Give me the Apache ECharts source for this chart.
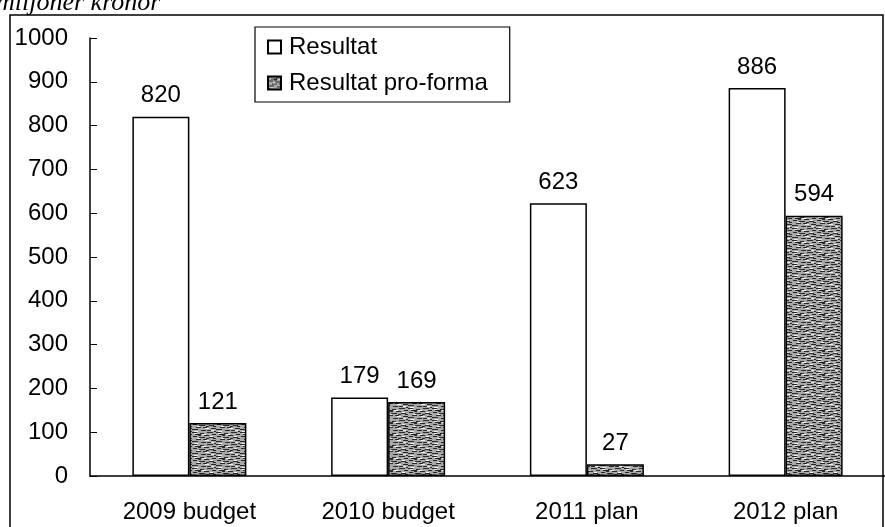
<!DOCTYPE html>
<html>
<head>
<meta charset="utf-8">
<script src="https://cdn.jsdelivr.net/npm/echarts@6/dist/echarts.min.js"></script>
<style>
  html, body { margin: 0; padding: 0; background: #fff; }
  #chart { width: 885px; height: 527px; }
</style>
</head>
<body>
<div id="chart"></div>
<script>
var categories = ['2009 budget', '2010 budget', '2011 plan', '2012 plan'];
var resultat = [820, 179, 623, 886];
var proforma = [121, 169, 27, 594];
var seriesNames = ['Resultat', 'Resultat pro-forma'];

// grainy grey fill like the scanned hatch
function makePattern() {
  var c = document.createElement('canvas');
  c.width = 24; c.height = 12;
  var ctx = c.getContext('2d');
  ctx.fillStyle = '#a8a8a8';
  ctx.fillRect(0, 0, 24, 12);
  ctx.fillStyle = '#2a2a2a';
  var marks = [[0,0,5],[8,1,4],[15,0,6],[3,2,6],[12,3,5],[20,2,4],
               [1,4,4],[7,5,6],[17,5,5],[4,7,5],[11,7,4],[19,8,5],
               [0,9,6],[9,10,5],[15,10,6],[22,11,2],[6,3,3],[14,6,3],[21,6,3]];
  marks.forEach(function (m) { ctx.fillRect(m[0], m[1], m[2], 1); });
  ctx.fillStyle = '#f0f0f0';
  var light = [[2,1,3],[10,2,4],[18,4,3],[5,6,3],[13,8,4],[2,11,4],[19,10,3]];
  light.forEach(function (m) { ctx.fillRect(m[0], m[1], m[2], 1); });
  return c;
}
var pattern = { image: makePattern(), repeat: 'repeat' };

var chart = echarts.init(document.getElementById('chart'));

var fontFamily = 'Liberation Sans, Arial, sans-serif';

var labelStyle = {
  show: true,
  position: 'top',
  distance: 9,
  color: '#000',
  fontSize: 24,
  fontFamily: fontFamily
};

var option = {
  animation: false,
  backgroundColor: '#fff',
  textStyle: { fontFamily: fontFamily, color: '#000' },
  grid: { left: 90, right: -8, top: 38, bottom: 51, containLabel: false },
  legend: {
    orient: 'vertical',
    left: 255,
    top: 27,
    padding: [8, 22, 7, 12],
    itemGap: 12,
    itemWidth: 13,
    itemHeight: 13,
    icon: 'rect',
    borderColor: '#000',
    borderWidth: 1.2,
    textStyle: { fontSize: 24, color: '#000', fontFamily: fontFamily, padding: [0, 0, 0, 3] },
    data: seriesNames
  },
  xAxis: {
    type: 'category',
    data: categories,
    axisLine: { lineStyle: { color: '#000', width: 1.5 } },
    axisTick: { inside: true, length: 8, lineStyle: { color: '#000', width: 1.5 } },
    axisLabel: { color: '#000', fontSize: 24, margin: 24, fontFamily: fontFamily }
  },
  yAxis: {
    type: 'value',
    min: 0,
    max: 1000,
    interval: 100,
    splitLine: { show: false },
    axisLine: { show: true, lineStyle: { color: '#000', width: 1.5 } },
    axisTick: { show: true, inside: true, length: 7, lineStyle: { color: '#000' } },
    axisLabel: {
      color: '#000', fontSize: 24, margin: 22, fontFamily: fontFamily,
      formatter: function (v) { return String(v); }
    }
  },
  series: [
    {
      name: seriesNames[0],
      type: 'bar',
      data: resultat,
      barWidth: 57,
      barGap: '0%',
      itemStyle: { color: '#fff', borderColor: '#000', borderWidth: 1.5 },
      label: labelStyle
    },
    {
      name: seriesNames[1],
      type: 'bar',
      data: proforma,
      barWidth: 57,
      itemStyle: { color: pattern, borderColor: '#000', borderWidth: 1.5 },
      label: labelStyle
    }
  ],
  graphic: [
    {
      type: 'rect',
      shape: { x: 10, y: 15, width: 873, height: 530 },
      style: { fill: 'none', stroke: '#000', lineWidth: 1.5 },
      silent: true
    },
    {
      type: 'text',
      left: -4,
      top: -10,
      style: {
        text: 'miljoner kronor',
        font: 'italic 26px "Liberation Serif", serif',
        fill: '#000'
      },
      silent: true
    }
  ]
};

chart.setOption(option);
</script>
</body>
</html>
